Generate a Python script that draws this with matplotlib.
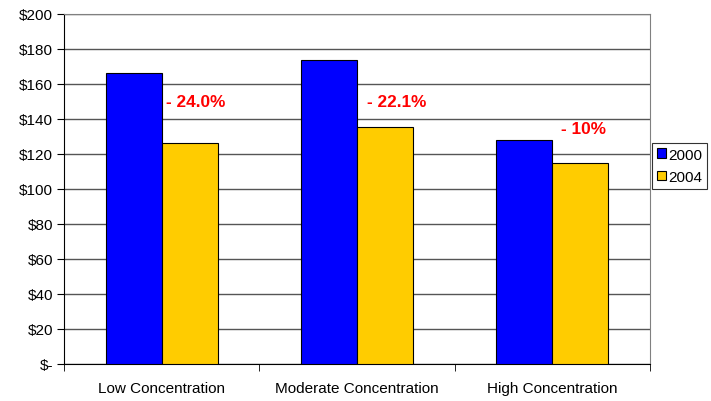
import numpy as np
import matplotlib.pyplot as plt
from matplotlib.ticker import FuncFormatter

plt.rcParams['font.family'] = ['Liberation Sans', 'DejaVu Sans']

categories = ['Low Concentration', 'Moderate Concentration', 'High Concentration']
vals_2000 = [166.2, 173.6, 127.8]
vals_2004 = [126.3, 135.2, 114.5]
changes = ['- 24.0%', '- 22.1%', '- 10%']

# where the change labels sit (x offset from category centre, y in $)
label_dx = [0.02, 0.05, 0.045]
label_y = [150, 150, 134.5]

fig = plt.figure(figsize=(7.11, 4.02), dpi=100)
ax = fig.add_axes([64 / 711, 37 / 402, 586 / 711, 350.3 / 402])

x = np.arange(len(categories))
w = 0.287
ax.bar(x - w / 2, vals_2000, w, color='#0000ff', edgecolor='black', linewidth=0.8,
       label='2000', zorder=3)
ax.bar(x + w / 2, vals_2004, w, color='#ffcc00', edgecolor='black', linewidth=0.8,
       label='2004', zorder=3)

for i, txt in enumerate(changes):
    ax.text(x[i] + label_dx[i], label_y[i], txt, color='#ff0000', fontsize=12.4,
            fontweight='bold', ha='left', va='center', zorder=4)

ax.set_xlim(-0.5, len(categories) - 0.5)
ax.set_ylim(0, 200)
ax.set_yticks(np.arange(0, 201, 20))
ax.yaxis.set_major_formatter(FuncFormatter(lambda v, p: '$-' if v == 0 else f'${v:.0f}'))
ax.yaxis.grid(True, color='#555555', linewidth=1, zorder=0)
ax.set_axisbelow(True)

ax.set_xticks(x)
ax.set_xticklabels(categories)
ax.set_xticks(np.arange(-0.5, len(categories)), minor=True)
ax.tick_params(axis='x', which='major', length=0, pad=12, labelsize=11)
ax.tick_params(axis='x', which='minor', length=5, direction='out', color='black')
ax.tick_params(axis='y', length=5, direction='out', labelsize=11, pad=3)

for s in ['left', 'bottom']:
    ax.spines[s].set_color('black')
for s in ['top', 'right']:
    ax.spines[s].set_color('#808080')

leg = fig.legend(loc='upper left', bbox_to_anchor=(652 / 711, 1 - 144 / 402),
                 fontsize=11, frameon=True, fancybox=False, handlelength=0.6,
                 handleheight=0.6, handletextpad=0.15, borderpad=0.3,
                 labelspacing=0.55, borderaxespad=0)
leg.get_frame().set_edgecolor('black')
leg.get_frame().set_linewidth(0.8)

fig.savefig('out.png', dpi=100)
